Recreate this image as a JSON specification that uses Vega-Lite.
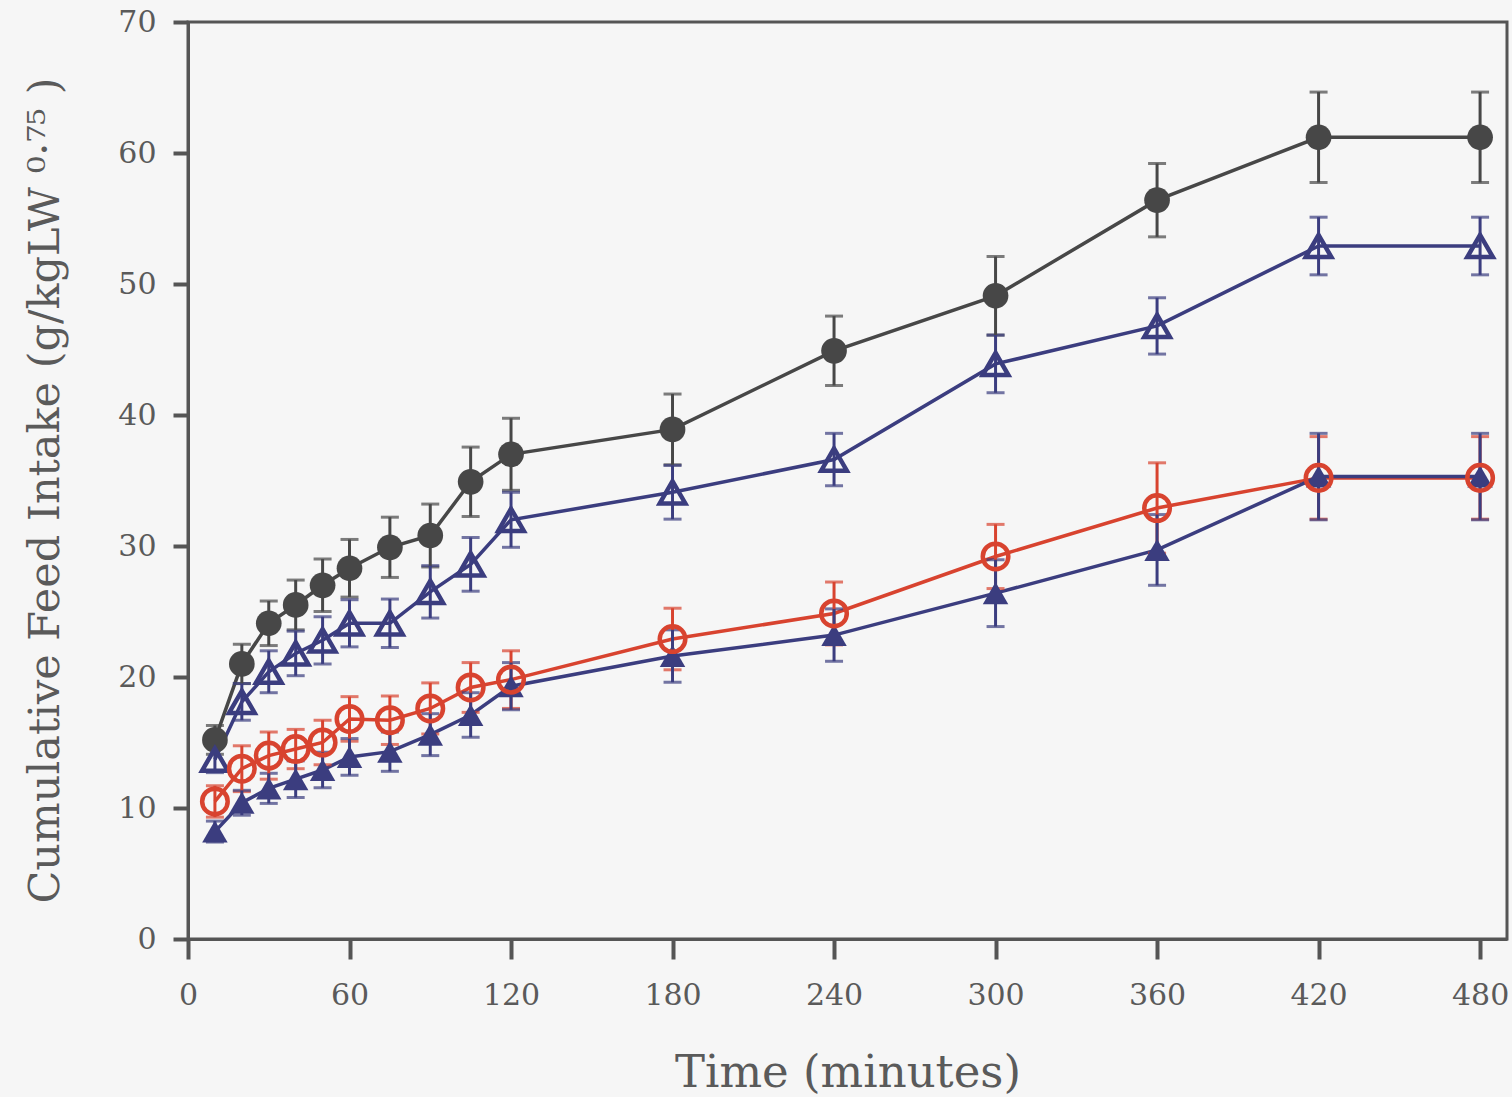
{
  "$schema": "https://vega.github.io/schema/vega-lite/v6.json",
  "width": 1319,
  "height": 917,
  "autosize": {"type": "none"},
  "padding": {"left": 188, "top": 22, "right": 5, "bottom": 158},
  "background": "#f6f6f6",
  "config": {
    "view": {"stroke": "#555555", "strokeWidth": 3, "fill": "#f6f6f6"},
    "axis": {
      "grid": false,
      "labelFlush": false,
      "labelOverlap": false,
      "domainColor": "#555555",
      "domainWidth": 3,
      "tickColor": "#555555",
      "tickWidth": 4,
      "labelFont": "DejaVu Serif",
      "labelFontSize": 30,
      "labelColor": "#5a5a5a",
      "titleFont": "DejaVu Serif",
      "titleFontWeight": "normal",
      "titleColor": "#5a5a5a"
    }
  },
  "datasets": {
    "intake": [
      {"group": "A", "t": 10, "v": 15.2, "se": 1.1},
      {"group": "A", "t": 20, "v": 21.0, "se": 1.5},
      {"group": "A", "t": 30, "v": 24.1, "se": 1.7},
      {"group": "A", "t": 40, "v": 25.5, "se": 1.9},
      {"group": "A", "t": 50, "v": 27.0, "se": 2.0},
      {"group": "A", "t": 60, "v": 28.3, "se": 2.2},
      {"group": "A", "t": 75, "v": 29.9, "se": 2.3},
      {"group": "A", "t": 90, "v": 30.8, "se": 2.4},
      {"group": "A", "t": 105, "v": 34.9, "se": 2.65},
      {"group": "A", "t": 120, "v": 37.0, "se": 2.75},
      {"group": "A", "t": 180, "v": 38.9, "se": 2.7},
      {"group": "A", "t": 240, "v": 44.9, "se": 2.65},
      {"group": "A", "t": 300, "v": 49.1, "se": 3.0},
      {"group": "A", "t": 360, "v": 56.4, "se": 2.8},
      {"group": "A", "t": 420, "v": 61.2, "se": 3.45},
      {"group": "A", "t": 480, "v": 61.2, "se": 3.45},

      {"group": "B", "t": 10, "v": 13.7, "se": 1.0},
      {"group": "B", "t": 20, "v": 18.1, "se": 1.4},
      {"group": "B", "t": 30, "v": 20.4, "se": 1.6},
      {"group": "B", "t": 40, "v": 21.8, "se": 1.7},
      {"group": "B", "t": 50, "v": 22.8, "se": 1.8},
      {"group": "B", "t": 60, "v": 24.1, "se": 1.8},
      {"group": "B", "t": 75, "v": 24.1, "se": 1.85},
      {"group": "B", "t": 90, "v": 26.5, "se": 2.0},
      {"group": "B", "t": 105, "v": 28.6, "se": 2.05},
      {"group": "B", "t": 120, "v": 32.0, "se": 2.1},
      {"group": "B", "t": 180, "v": 34.1, "se": 2.05},
      {"group": "B", "t": 240, "v": 36.6, "se": 2.0},
      {"group": "B", "t": 300, "v": 43.9, "se": 2.2},
      {"group": "B", "t": 360, "v": 46.8, "se": 2.15},
      {"group": "B", "t": 420, "v": 52.9, "se": 2.2},
      {"group": "B", "t": 480, "v": 52.9, "se": 2.2},

      {"group": "C", "t": 10, "v": 10.5, "se": 1.2},
      {"group": "C", "t": 20, "v": 13.0, "se": 1.75},
      {"group": "C", "t": 30, "v": 14.0, "se": 1.8},
      {"group": "C", "t": 40, "v": 14.5, "se": 1.5},
      {"group": "C", "t": 50, "v": 15.0, "se": 1.7},
      {"group": "C", "t": 60, "v": 16.8, "se": 1.7},
      {"group": "C", "t": 75, "v": 16.7, "se": 1.85},
      {"group": "C", "t": 90, "v": 17.6, "se": 1.95},
      {"group": "C", "t": 105, "v": 19.2, "se": 1.9},
      {"group": "C", "t": 120, "v": 19.8, "se": 2.2},
      {"group": "C", "t": 180, "v": 22.9, "se": 2.35},
      {"group": "C", "t": 240, "v": 24.85, "se": 2.4},
      {"group": "C", "t": 300, "v": 29.2, "se": 2.45},
      {"group": "C", "t": 360, "v": 32.9, "se": 3.45},
      {"group": "C", "t": 420, "v": 35.2, "se": 3.15},
      {"group": "C", "t": 480, "v": 35.2, "se": 3.15},

      {"group": "D", "t": 10, "v": 8.2, "se": 0.8},
      {"group": "D", "t": 20, "v": 10.4, "se": 0.95},
      {"group": "D", "t": 30, "v": 11.5, "se": 1.15},
      {"group": "D", "t": 40, "v": 12.2, "se": 1.4},
      {"group": "D", "t": 50, "v": 12.9, "se": 1.35},
      {"group": "D", "t": 60, "v": 13.9, "se": 1.4},
      {"group": "D", "t": 75, "v": 14.3, "se": 1.5},
      {"group": "D", "t": 90, "v": 15.6, "se": 1.6},
      {"group": "D", "t": 105, "v": 17.1, "se": 1.7},
      {"group": "D", "t": 120, "v": 19.3, "se": 1.8},
      {"group": "D", "t": 180, "v": 21.6, "se": 2.0},
      {"group": "D", "t": 240, "v": 23.2, "se": 2.0},
      {"group": "D", "t": 300, "v": 26.4, "se": 2.55},
      {"group": "D", "t": 360, "v": 29.7, "se": 2.7},
      {"group": "D", "t": 420, "v": 35.3, "se": 3.3},
      {"group": "D", "t": 480, "v": 35.3, "se": 3.3}
    ]
  },
  "data": {"name": "intake"},
  "encoding": {
    "x": {
      "field": "t",
      "type": "quantitative",
      "scale": {"domain": [0, 490], "nice": false, "zero": false},
      "axis": {
        "values": [0, 60, 120, 180, 240, 300, 360, 420, 480],
        "tickSize": 20,
        "labelPadding": 21,
        "title": "Time (minutes)",
        "titleFontSize": 45,
        "titleY": 147,
        "titleBaseline": "alphabetic"
      }
    },
    "y": {
      "field": "v",
      "type": "quantitative",
      "scale": {"domain": [0, 70], "nice": false},
      "axis": {
        "values": [0, 10, 20, 30, 40, 50, 60, 70],
        "tickSize": 15,
        "labelPadding": 17,
        "title": "Cumulative Feed Intake (g/kgLW ⁰·⁷⁵ )",
        "titleFontSize": 43,
        "titleX": -143,
        "titleY": 468,
        "titleBaseline": "middle"
      }
    },
    "color": {
      "field": "group",
      "type": "nominal",
      "scale": {"domain": ["A", "B", "C", "D"], "range": ["#474747", "#3b3d7f", "#d8432f", "#3b3d7f"]},
      "legend": null
    }
  },
  "layer": [
    {
      "mark": {"type": "line", "strokeWidth": 3.5}
    },
    {
      "mark": {
        "type": "errorbar",
        "ticks": {"size": 18, "thickness": 3},
        "rule": {"strokeWidth": 3}
      },
      "encoding": {
        "y": {"field": "v", "type": "quantitative"},
        "yError": {"field": "se"}
      }
    },
    {
      "transform": [{"filter": {"field": "group", "oneOf": ["A", "D"]}}],
      "mark": {"type": "point", "filled": true, "opacity": 1},
      "encoding": {
        "shape": {
          "field": "group",
          "type": "nominal",
          "scale": {"domain": ["A", "B", "C", "D"], "range": ["circle", "triangle-up", "circle", "triangle-up"]},
          "legend": null
        },
        "size": {
          "field": "group",
          "type": "nominal",
          "scale": {"domain": ["A", "B", "C", "D"], "range": [660, 650, 470, 680]},
          "legend": null
        }
      }
    },
    {
      "transform": [{"filter": {"field": "group", "oneOf": ["B", "C"]}}],
      "mark": {"type": "point", "filled": false, "strokeWidth": 4.5, "opacity": 1},
      "encoding": {
        "shape": {
          "field": "group",
          "type": "nominal",
          "scale": {"domain": ["A", "B", "C", "D"], "range": ["circle", "triangle-up", "circle", "triangle-up"]},
          "legend": null
        },
        "size": {
          "field": "group",
          "type": "nominal",
          "scale": {"domain": ["A", "B", "C", "D"], "range": [660, 650, 470, 680]},
          "legend": null
        }
      }
    }
  ]
}
